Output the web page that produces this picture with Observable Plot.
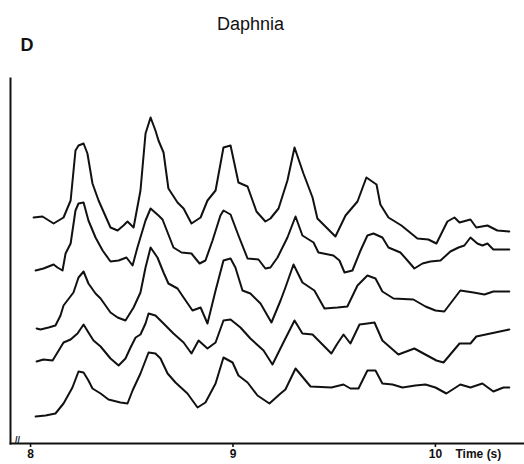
<!DOCTYPE html>
<html>
<head>
<meta charset="utf-8">
<script src="https://cdn.jsdelivr.net/npm/d3@7"></script>
<script src="https://cdn.jsdelivr.net/npm/@observablehq/plot@0.6"></script>
<style>
  html, body { margin: 0; padding: 0; background: #fff; }
  #chart svg { display: block; }
  #chart svg text.title { letter-spacing: 0.8px; }
</style>
</head>
<body>
<div id="chart"></div>
<script>
// Five stacked traces (arbitrary amplitude units) vs time in seconds
const time1 = [8.015,8.059,8.114,8.163,8.198,8.222,8.237,8.262,8.281,8.306,8.336,8.395,8.430,8.459,8.479,8.509,8.543,8.568,8.593,8.617,8.632,8.657,8.681,8.726,8.756,8.795,8.840,8.874,8.914,8.953,8.988,9.027,9.072,9.116,9.160,9.185,9.225,9.269,9.304,9.348,9.393,9.417,9.506,9.556,9.615,9.659,9.709,9.728,9.768,9.832,9.911,9.965,10.005,10.059,10.094,10.119,10.173,10.202,10.257,10.306,10.365];
const value1 = [226,227,220,226,243,293,298,300,290,260,243,216,213,218,222,216,253,310,326,313,303,291,255,241,235,220,226,243,253,296,298,261,257,232,222,225,235,263,296,270,246,225,207,228,242,266,259,239,226,218,205,204,200,222,226,221,224,216,218,213,212];

const time2 = [8.025,8.064,8.114,8.133,8.158,8.173,8.198,8.222,8.237,8.262,8.286,8.321,8.356,8.395,8.435,8.474,8.504,8.528,8.568,8.593,8.632,8.652,8.706,8.746,8.795,8.835,8.864,8.899,8.938,8.953,8.988,9.027,9.072,9.126,9.160,9.185,9.220,9.269,9.309,9.343,9.398,9.422,9.496,9.526,9.551,9.590,9.630,9.664,9.694,9.738,9.768,9.827,9.862,9.896,9.936,9.975,10.025,10.074,10.114,10.143,10.173,10.207,10.232,10.257,10.286,10.365];
const value2 = [173,175,179,176,173,190,200,233,240,241,223,206,193,182,183,186,178,196,223,235,228,224,196,191,190,180,183,203,228,233,229,208,185,184,175,176,186,206,227,208,201,191,188,183,171,173,193,208,210,206,196,191,183,175,180,182,183,192,196,198,206,200,198,200,194,194];

const time3 = [8.030,8.049,8.089,8.123,8.148,8.163,8.212,8.237,8.262,8.286,8.321,8.346,8.395,8.430,8.469,8.509,8.543,8.568,8.593,8.627,8.657,8.681,8.726,8.756,8.800,8.840,8.874,8.914,8.953,8.988,9.012,9.047,9.086,9.136,9.190,9.235,9.259,9.299,9.343,9.402,9.452,9.516,9.565,9.615,9.664,9.704,9.738,9.793,9.891,9.951,10.000,10.044,10.123,10.188,10.242,10.286,10.365];
const value3 = [115,114,116,118,128,138,151,166,172,160,150,145,131,126,123,136,151,176,196,186,171,160,155,146,133,136,120,153,183,185,176,153,150,140,121,143,156,179,161,153,135,136,137,158,168,165,152,145,144,137,133,132,153,151,149,152,152];

const time4 = [8.030,8.064,8.109,8.133,8.163,8.198,8.232,8.262,8.286,8.311,8.346,8.395,8.435,8.469,8.494,8.519,8.543,8.568,8.583,8.617,8.657,8.706,8.756,8.795,8.830,8.874,8.914,8.953,8.988,9.037,9.086,9.151,9.195,9.249,9.304,9.343,9.393,9.486,9.516,9.546,9.580,9.625,9.664,9.699,9.738,9.817,9.896,9.941,10.005,10.040,10.119,10.173,10.202,10.365];
const value4 = [82,84,83,91,101,104,110,119,111,103,97,85,78,85,96,106,109,120,130,128,120,110,101,90,103,95,101,123,124,116,105,93,79,101,123,110,109,90,100,109,100,119,120,121,103,89,95,90,83,81,100,100,107,114];

const time5 = [8.025,8.074,8.123,8.163,8.207,8.237,8.262,8.286,8.306,8.346,8.385,8.444,8.479,8.504,8.543,8.583,8.617,8.642,8.677,8.716,8.775,8.825,8.864,8.914,8.953,8.998,9.027,9.072,9.121,9.180,9.235,9.259,9.309,9.383,9.486,9.546,9.580,9.620,9.664,9.704,9.738,9.788,9.837,9.901,9.951,10.000,10.054,10.123,10.173,10.232,10.286,10.336,10.365];
const value5 = [27,28,30,40,56,72,71,63,55,50,44,41,40,53,70,91,90,85,70,61,50,36,41,60,86,81,68,61,48,40,50,54,75,57,56,59,55,55,73,73,60,59,56,58,59,56,50,59,56,60,52,56,56];

const xTicks = [8, 9, 10];
const title = "Daphnia";
const panel = "D";
const xLabel = "Time (s)";

const traces = [[time1, value1], [time2, value2], [time3, value3], [time4, value4], [time5, value5]];
const rows = traces.flatMap(([t, v], i) => t.map((x, j) => ({trace: i + 1, time: x, value: v[j]})));

const font = "'Liberation Sans', Arial, Helvetica, sans-serif";

const chart = Plot.plot({
  width: 524,
  height: 464,
  marginLeft: 10,
  marginRight: 0,
  marginTop: 78,
  marginBottom: 21,
  style: {fontFamily: font, color: "#111", background: "#fff"},
  x: {domain: [7.901, 10.44]},
  y: {domain: [0, 365], axis: null},
  marks: [
    Plot.frame({anchor: "left", stroke: "#111", strokeWidth: 2}),
    Plot.frame({anchor: "bottom", stroke: "#111", strokeWidth: 1.8}),
    Plot.axisX({ticks: xTicks, tickSize: 4, tickPadding: 2, tickFormat: d3.format("d"), label: null, fontSize: 12, fontWeight: "bold", stroke: "#111", strokeWidth: 1.6}),
    Plot.line(rows, {x: "time", y: "value", z: "trace", stroke: "#111", strokeWidth: 2, strokeLinejoin: "round"}),
    Plot.text([title], {frameAnchor: "top", dx: -17, dy: -61, fontSize: 18, fill: "#111", className: "title"}),
    Plot.text([panel], {frameAnchor: "top-left", dx: 10, dy: -40, textAnchor: "start", fontSize: 18, fontWeight: "bold", fill: "#111"}),
    Plot.text([xLabel], {frameAnchor: "bottom-right", dx: -69, dy: 6, textAnchor: "start", lineAnchor: "top", fontSize: 12, fontWeight: "bold", fill: "#111"}),
    Plot.text(["//"], {frameAnchor: "bottom-left", dx: 7, dy: -1, textAnchor: "middle", fontSize: 9, fontWeight: "bold", fill: "#111"})
  ]
});
document.getElementById("chart").appendChild(chart);
</script>
</body>
</html>
